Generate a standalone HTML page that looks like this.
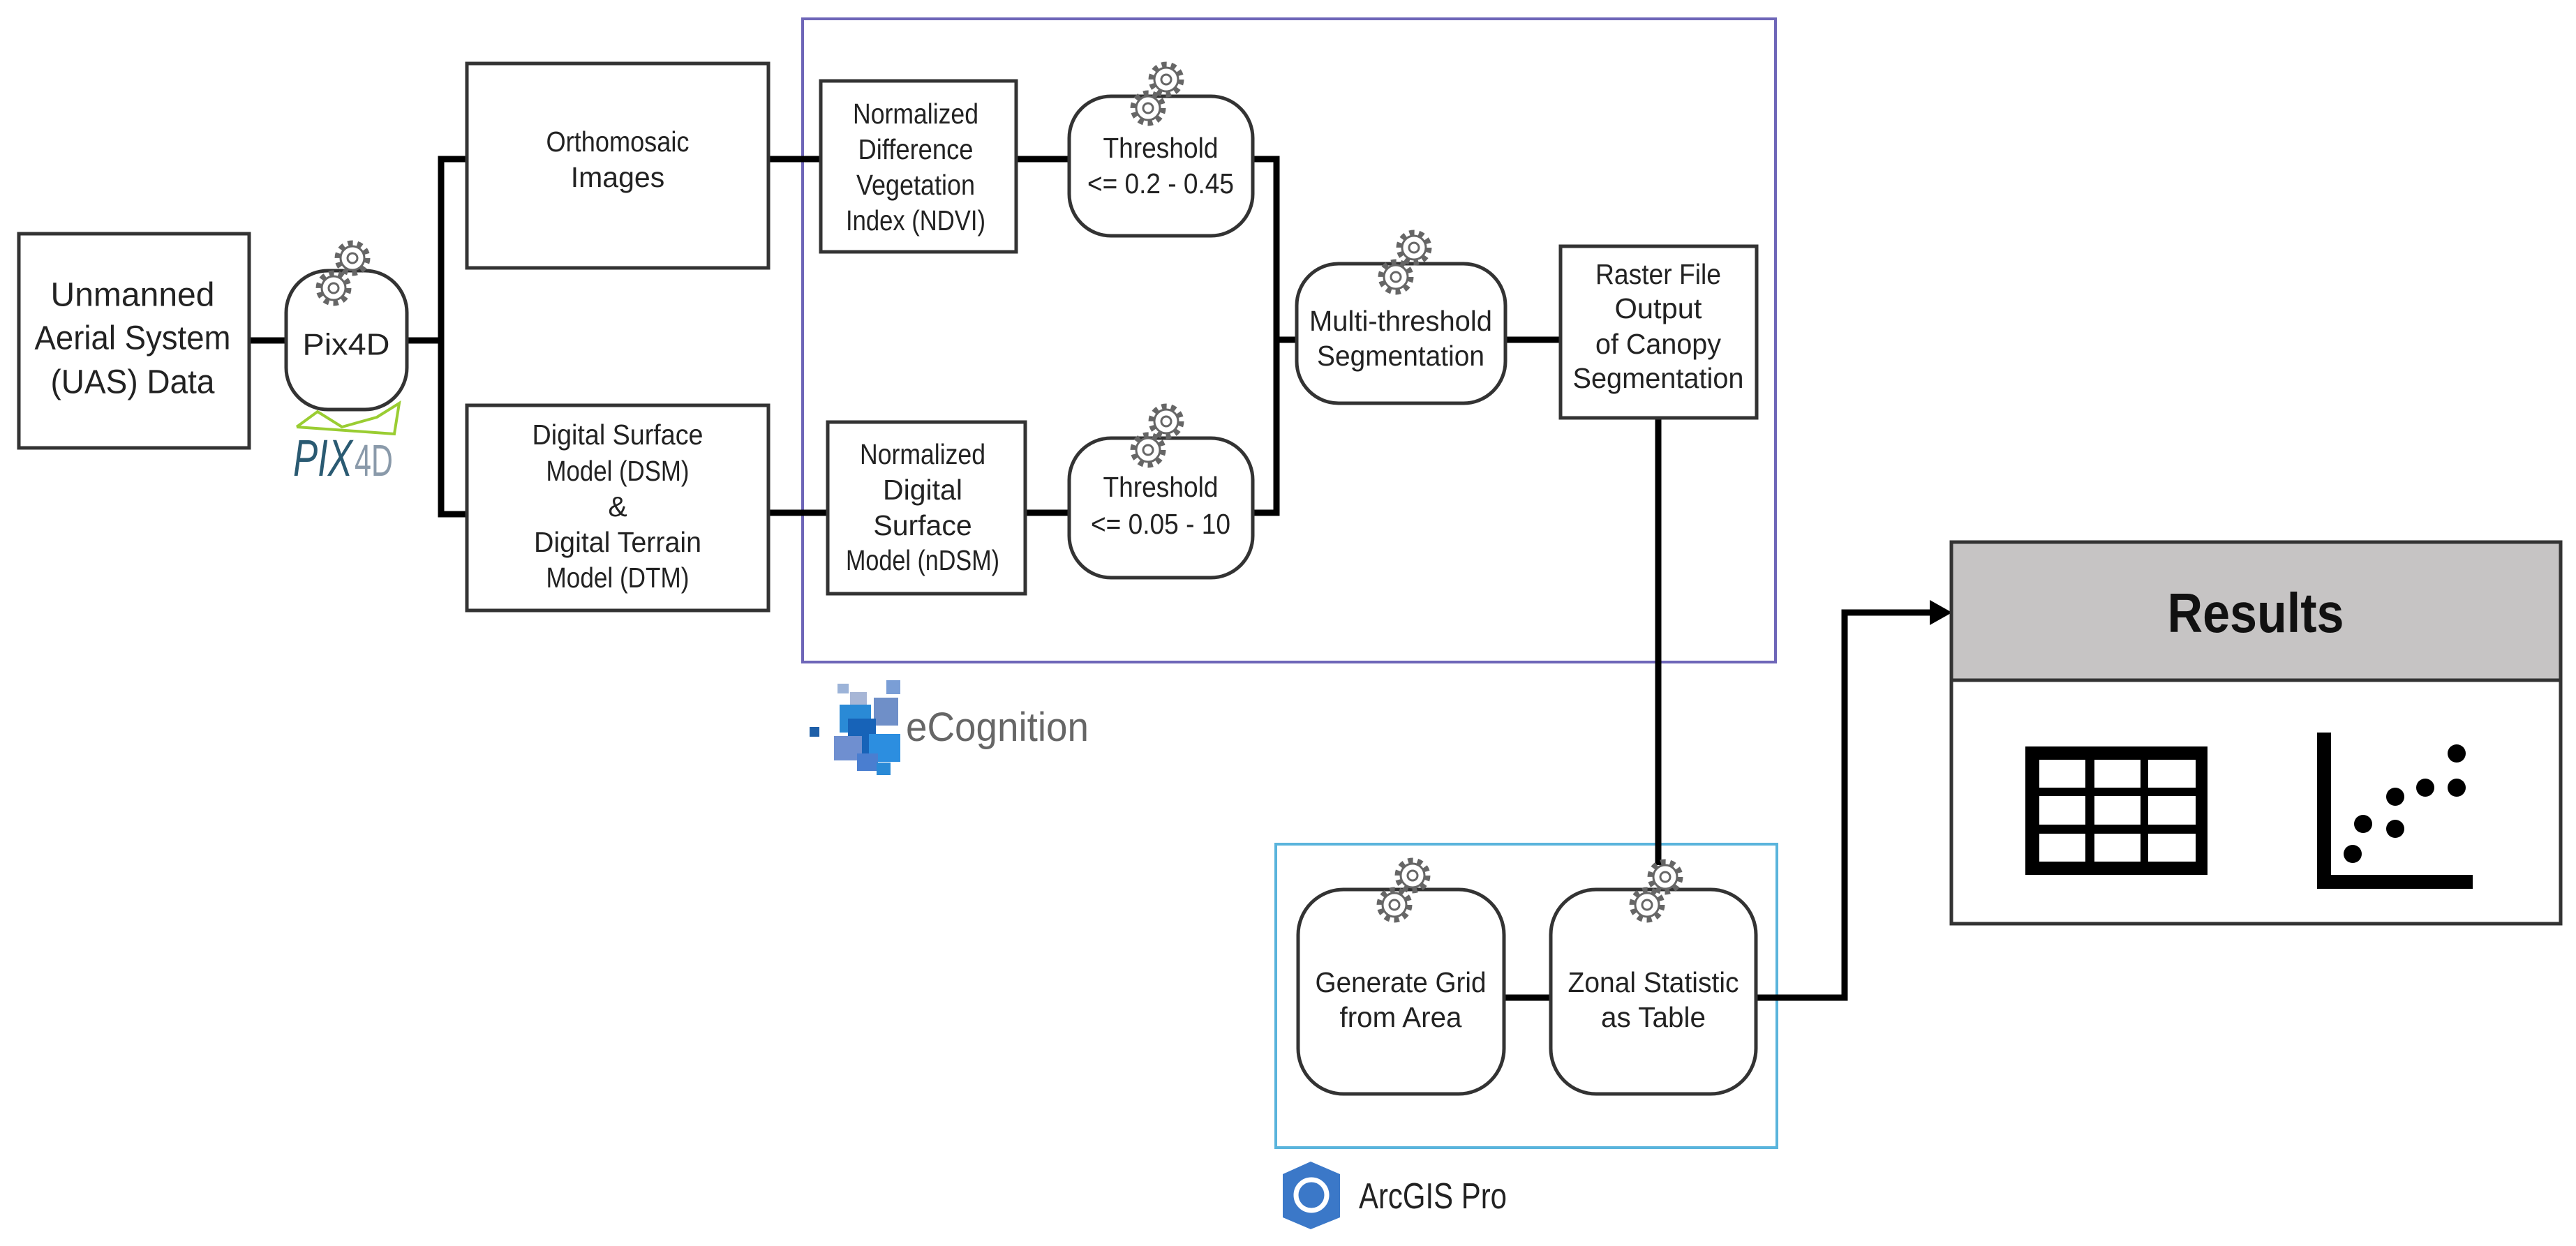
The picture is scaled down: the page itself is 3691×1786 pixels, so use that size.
<!DOCTYPE html>
<html><head><meta charset="utf-8"><style>
html,body{margin:0;padding:0;background:#fff;}
svg{display:block;}
text{font-family:"Liberation Sans",sans-serif;fill:#222;}
</style></head><body>
<svg width="3691" height="1786" viewBox="0 0 3691 1786" xmlns="http://www.w3.org/2000/svg">
<defs>
<g id="gear">
<circle r="21" fill="none" stroke="#666" stroke-width="9" stroke-dasharray="7 6.2"/>
<circle r="17" fill="#fff" stroke="#666" stroke-width="3"/>
<circle r="7" fill="#fff" stroke="#666" stroke-width="3"/>
</g>
</defs>

<rect x="1150" y="27" width="1394" height="922" fill="none" stroke="#6e66b8" stroke-width="4"/>
<rect x="1828" y="1210" width="718" height="435" fill="none" stroke="#5ab4dc" stroke-width="4"/>

<g stroke="#000" stroke-width="9" fill="none">
<line x1="357" y1="488" x2="410" y2="488"/>
<line x1="583" y1="488" x2="632" y2="488"/>
<polyline points="669,228 632,228 632,737 669,737"/>
<line x1="1101" y1="228" x2="1176" y2="228"/>
<line x1="1456" y1="228" x2="1532" y2="228"/>
<line x1="1101" y1="735" x2="1186" y2="735"/>
<line x1="1469" y1="735" x2="1532" y2="735"/>
<polyline points="1795,228 1829,228 1829,735 1795,735"/>
<line x1="1829" y1="487" x2="1858" y2="487"/>
<line x1="2157" y1="487" x2="2236" y2="487"/>
<line x1="2376" y1="599" x2="2376" y2="1240"/>
<line x1="2155" y1="1430" x2="2222" y2="1430"/>
<polyline points="2516,1430 2643,1430 2643,878 2770,878"/>
</g>
<polygon points="2765,860 2797,878 2765,896" fill="#000"/>

<g fill="#fff" stroke="#333" stroke-width="5">
<rect x="27" y="335" width="330" height="307"/>
<rect x="410" y="388" width="173" height="199" rx="60"/>
<rect x="669" y="91" width="432" height="293"/>
<rect x="669" y="581" width="432" height="294"/>
<rect x="1176" y="116" width="280" height="245"/>
<rect x="1186" y="605" width="283" height="246"/>
<rect x="1532" y="138" width="263" height="200" rx="60"/>
<rect x="1532" y="628" width="263" height="200" rx="60"/>
<rect x="1858" y="378" width="299" height="200" rx="60"/>
<rect x="2236" y="353" width="281" height="246"/>
<rect x="1860" y="1275" width="295" height="293" rx="65"/>
<rect x="2222" y="1275" width="294" height="293" rx="65"/>
</g>

<use href="#gear" x="505" y="370"/><use href="#gear" x="478" y="413"/>
<use href="#gear" x="1671" y="114"/><use href="#gear" x="1645" y="155"/>
<use href="#gear" x="1671" y="604"/><use href="#gear" x="1645" y="645"/>
<use href="#gear" x="2026" y="355"/><use href="#gear" x="2000" y="397"/>
<use href="#gear" x="2024" y="1255"/><use href="#gear" x="1998" y="1297"/>
<use href="#gear" x="2386" y="1257"/><use href="#gear" x="2360" y="1297"/>

<g text-anchor="middle" dominant-baseline="central">
<g font-size="48"><text x="190" y="423" textLength="235" lengthAdjust="spacingAndGlyphs">Unmanned</text><text x="190" y="485" textLength="281" lengthAdjust="spacingAndGlyphs">Aerial System</text><text x="190" y="548" textLength="235" lengthAdjust="spacingAndGlyphs">(UAS) Data</text></g>
<text x="496" y="494" font-size="44" textLength="125" lengthAdjust="spacingAndGlyphs">Pix4D</text>
<g font-size="41">
<text x="885" y="203" textLength="205" lengthAdjust="spacingAndGlyphs">Orthomosaic</text><text x="885" y="254">Images</text>
<text x="885" y="623" textLength="245" lengthAdjust="spacingAndGlyphs">Digital Surface</text><text x="885" y="675" textLength="205" lengthAdjust="spacingAndGlyphs">Model (DSM)</text><text x="885" y="726">&amp;</text><text x="885" y="777" textLength="240" lengthAdjust="spacingAndGlyphs">Digital Terrain</text><text x="885" y="828" textLength="205" lengthAdjust="spacingAndGlyphs">Model (DTM)</text>
<text x="1312" y="163" textLength="180" lengthAdjust="spacingAndGlyphs">Normalized</text><text x="1312" y="214" textLength="165" lengthAdjust="spacingAndGlyphs">Difference</text><text x="1312" y="265" textLength="170" lengthAdjust="spacingAndGlyphs">Vegetation</text><text x="1312" y="316" textLength="200" lengthAdjust="spacingAndGlyphs">Index (NDVI)</text>
<text x="1322" y="651" textLength="180" lengthAdjust="spacingAndGlyphs">Normalized</text><text x="1322" y="702">Digital</text><text x="1322" y="753">Surface</text><text x="1322" y="803" textLength="220" lengthAdjust="spacingAndGlyphs">Model (nDSM)</text>
<text x="1663" y="212" textLength="165" lengthAdjust="spacingAndGlyphs">Threshold</text><text x="1663" y="263" textLength="210" lengthAdjust="spacingAndGlyphs">&lt;= 0.2 - 0.45</text>
<text x="1663" y="698" textLength="165" lengthAdjust="spacingAndGlyphs">Threshold</text><text x="1663" y="751" textLength="200" lengthAdjust="spacingAndGlyphs">&lt;= 0.05 - 10</text>
<text x="2007" y="460" textLength="262" lengthAdjust="spacingAndGlyphs">Multi-threshold</text><text x="2007" y="510" textLength="240" lengthAdjust="spacingAndGlyphs">Segmentation</text>
<text x="2376" y="393" textLength="180" lengthAdjust="spacingAndGlyphs">Raster File</text><text x="2376" y="442" textLength="125" lengthAdjust="spacingAndGlyphs">Output</text><text x="2376" y="493" textLength="180" lengthAdjust="spacingAndGlyphs">of Canopy</text><text x="2376" y="542" textLength="245" lengthAdjust="spacingAndGlyphs">Segmentation</text>
<text x="2007" y="1408" textLength="245" lengthAdjust="spacingAndGlyphs">Generate Grid</text><text x="2007" y="1458" textLength="175" lengthAdjust="spacingAndGlyphs">from Area</text>
<text x="2369" y="1408" textLength="245" lengthAdjust="spacingAndGlyphs">Zonal Statistic</text><text x="2369" y="1458" textLength="150" lengthAdjust="spacingAndGlyphs">as Table</text>
</g>
</g>

<rect x="2796" y="777" width="873" height="198" fill="#c6c4c4" stroke="#333" stroke-width="5"/>
<rect x="2796" y="975" width="873" height="349" fill="#fff" stroke="#333" stroke-width="5"/>
<text x="3232" y="906" font-size="80" font-weight="bold" text-anchor="middle" textLength="253" lengthAdjust="spacingAndGlyphs" style="fill:#111">Results</text>
<rect x="2902" y="1070" width="261" height="184" fill="#000"/>
<g fill="#fff">
<rect x="2922" y="1089" width="66" height="40"/><rect x="3001" y="1089" width="66" height="40"/><rect x="3078" y="1089" width="68" height="40"/>
<rect x="2922" y="1141" width="66" height="41"/><rect x="3001" y="1141" width="66" height="41"/><rect x="3078" y="1141" width="68" height="41"/>
<rect x="2922" y="1195" width="66" height="40"/><rect x="3001" y="1195" width="66" height="40"/><rect x="3078" y="1195" width="68" height="40"/>
</g>
<rect x="3320" y="1050" width="20" height="224" fill="#000"/>
<rect x="3320" y="1254" width="223" height="20" fill="#000"/>
<g fill="#000">
<circle cx="3520" cy="1080" r="13"/><circle cx="3520" cy="1129" r="13"/><circle cx="3475" cy="1129" r="13"/>
<circle cx="3432" cy="1142" r="13"/><circle cx="3386" cy="1181" r="13"/><circle cx="3432" cy="1188" r="13"/><circle cx="3371" cy="1224" r="13"/>
</g>

<polyline points="425,612 455,590 490,612 540,598 572,578 565,622 425,612" fill="none" stroke="#9acd32" stroke-width="4"/>
<text x="420" y="682" font-size="74" font-style="italic" textLength="85" lengthAdjust="spacingAndGlyphs" style="fill:#2a5a72">PIX</text>
<text x="508" y="682" font-size="64" textLength="55" lengthAdjust="spacingAndGlyphs" style="fill:#8a9aaa">4D</text>

<g>
<rect x="1160" y="1042" width="14" height="14" fill="#1e5fa8"/>
<rect x="1200" y="980" width="16" height="14" fill="#9cb3d8"/>
<rect x="1218" y="992" width="24" height="18" fill="#a7b6d6"/>
<rect x="1270" y="975" width="20" height="20" fill="#7a9ed6"/>
<rect x="1252" y="1000" width="35" height="40" fill="#6f8fc8"/>
<rect x="1203" y="1010" width="45" height="40" fill="#2a8ad6"/>
<rect x="1215" y="1030" width="40" height="50" fill="#1763b8"/>
<rect x="1195" y="1055" width="40" height="35" fill="#6f8fd0"/>
<rect x="1245" y="1052" width="45" height="40" fill="#2c8ee0"/>
<rect x="1228" y="1080" width="30" height="25" fill="#4a7ed0"/>
<rect x="1256" y="1093" width="20" height="18" fill="#2a8ad6"/>
<text x="1298" y="1062" font-size="58" textLength="262" lengthAdjust="spacingAndGlyphs" style="fill:#666">eCognition</text>
</g>

<polygon points="1878,1665 1920,1683 1920,1745 1878,1762 1838,1745 1838,1683" fill="#3b78c8"/>
<circle cx="1879" cy="1713" r="22" fill="none" stroke="#fff" stroke-width="7"/>
<text x="1947" y="1732" font-size="52" textLength="212" lengthAdjust="spacingAndGlyphs" style="fill:#222">ArcGIS Pro</text>
</svg>
</body></html>
